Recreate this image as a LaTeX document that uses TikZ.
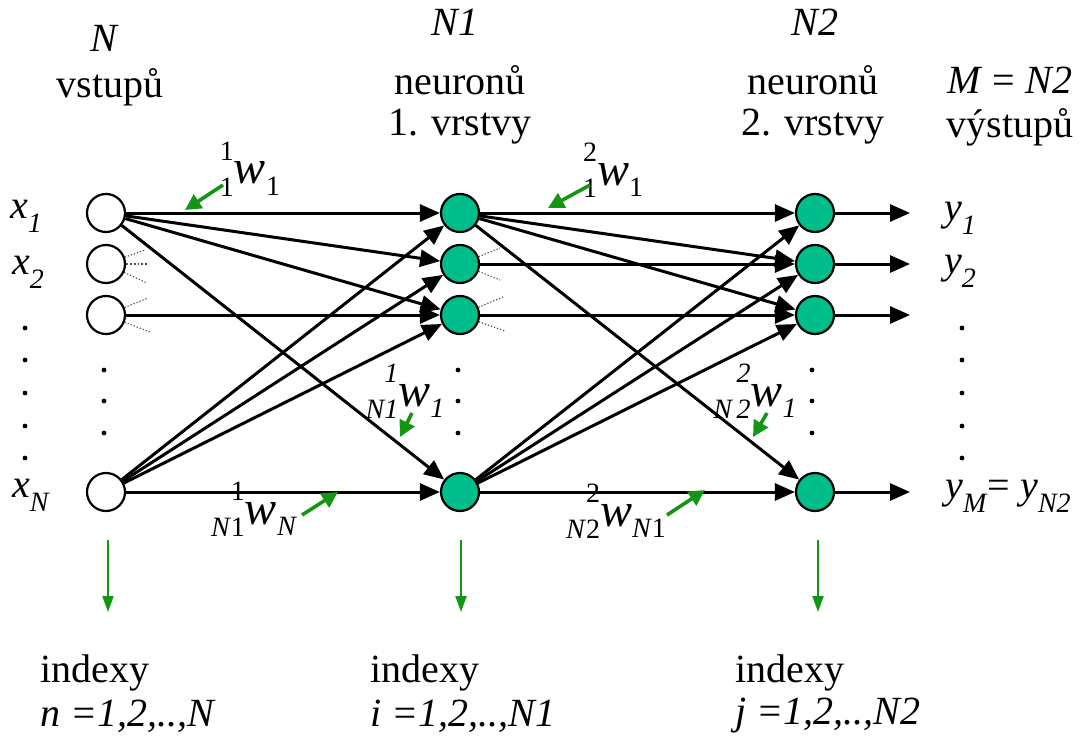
\documentclass[tikz,border=0pt]{standalone}
\usepackage{fontspec}
\setmainfont{Liberation Serif}
\usetikzlibrary{arrows.meta}
\definecolor{neuro}{RGB}{0,190,140}
\definecolor{garrow}{RGB}{20,150,20}
\newcommand{\lsub}[1]{\raisebox{-0.35em}{\fontsize{14}{14}\selectfont #1}}
\newcommand{\wlab}[3]{{\fontsize{14}{14}\selectfont\raisebox{-0.45em}{#2}\llap{\raisebox{0.85em}{#1}}}{\fontsize{24}{24}\selectfont\itshape w}{\fontsize{14}{14}\selectfont\raisebox{-0.4em}{#3}}}
\begin{document}
\begin{tikzpicture}[x=0.5pt,y=-0.5pt,
  inp/.style={circle,draw,line width=1.1pt,minimum size=19pt,inner sep=0pt,fill=white},
  neu/.style={inp,fill=neuro},
  conn/.style={line width=1.5pt,-{Triangle[length=10pt,width=8.5pt]}},
  hint/.style={garrow,line width=1.8pt,-{Triangle[length=8pt,width=8pt]}},
  down/.style={garrow,line width=1.1pt,-{Triangle[length=8pt,width=5.5pt]}},
  dotl/.style={densely dotted,line width=0.6pt,black!70},
  txt/.style={font=\fontsize{20}{23.5}\selectfont,inner sep=0pt,align=center},
  wtxt/.style={inner sep=0pt,anchor=base},
  dotn/.style={circle,fill=black,inner sep=0pt,minimum size=2.4pt},
]
\useasboundingbox (0,0) rectangle (1081,738);

% nodes
\node[inp] (i1) at (106,213) {};
\node[inp] (i2) at (106,264) {};
\node[inp] (i3) at (106,315) {};
\node[inp] (iN) at (106,492) {};
\node[neu] (h1) at (460,213) {};
\node[neu] (h2) at (460,264) {};
\node[neu] (h3) at (460,315) {};
\node[neu] (hN) at (460,492) {};
\node[neu] (o1) at (815,213) {};
\node[neu] (o2) at (815,264) {};
\node[neu] (o3) at (815,315) {};
\node[neu] (oN) at (815,492) {};

% connections layer 1
\foreach \t in {h1,h2,h3,hN}{
  \draw[conn] (i1) -- (\t);
  \draw[conn] (iN) -- (\t);
}
\draw[conn] (i3) -- (h3);
% connections layer 2
\foreach \t in {o1,o2,o3,oN}{
  \draw[conn] (h1) -- (\t);
  \draw[conn] (hN) -- (\t);
}
\draw[conn] (h2) -- (o2);
\draw[conn] (h3) -- (o3);

% outputs
\coordinate (e1) at (910,213);
\coordinate (e2) at (910,264);
\coordinate (e3) at (910,315);
\coordinate (eN) at (910,492);
\draw[conn] (o1) -- (e1);
\draw[conn] (o2) -- (e2);
\draw[conn] (o3) -- (e3);
\draw[conn] (oN) -- (eN);

% dotted stubs
\coordinate (d2a) at (145,250);
\coordinate (d2b) at (148,264);
\coordinate (d2c) at (147,283);
\coordinate (d3a) at (148,298);
\coordinate (d3c) at (150,332);
\coordinate (dh2a) at (500,248);
\coordinate (dh2c) at (500,280);
\coordinate (dh3a) at (503,297);
\coordinate (dh3c) at (505,331);
\draw[dotl] (i2) -- (d2a);
\draw[dotl,line width=0.9pt] (i2) -- (d2b);
\draw[dotl] (i2) -- (d2c);
\draw[dotl] (i3) -- (d3a);
\draw[dotl] (i3) -- (d3c);
\draw[dotl] (h2) -- (dh2a);
\draw[dotl] (h2) -- (dh2c);
\draw[dotl] (h3) -- (dh3a);
\draw[dotl] (h3) -- (dh3c);

% vertical dots in columns
\foreach \yy [count=\k] in {370,401,433}{
  \node[dotn] (ci\k) at (104,\yy) {};
  \node[dotn] (ch\k) at (458,\yy) {};
  \node[dotn] (co\k) at (812,\yy) {};
}
\foreach \yy [count=\k] in {328,360,393,426,458}{
  \node[dotn] (lx\k) at (25,\yy) {};
  \node[dotn] (ry\k) at (962,\yy) {};
}

% input / output labels
\node[txt] (lx1) at (26,216) {\textit{x}\lsub{\textit{1}}};
\node[txt] (lx2) at (28,272) {\textit{x}\lsub{\textit{2}}};
\node[txt] (lxN) at (31,495) {\textit{x}\lsub{\textit{N}}};
\node[txt] (ly1) at (960,218) {\textit{y}\lsub{\textit{1}}};
\node[txt] (ly2) at (960,271) {\textit{y}\lsub{\textit{2}}};
\node[txt] (lyM) at (1008,496) {\textit{y}\lsub{\textit{M}}= \textit{y}\lsub{\textit{N2}}};

% headers
\node[txt] (hN0) at (105,38) {\textit{N}};
\node[txt] (hv0) at (110,87) {vstupů};
\node[txt] (hN1) at (455,22) {\textit{N1}};
\node[txt] (hn1) at (460,80) {neuronů};
\node[txt] (hl1) at (460,127) {1. vrstvy};
\node[txt] (hN2) at (815,22) {\textit{N2}};
\node[txt] (hn2) at (813,80) {neuronů};
\node[txt] (hl2) at (813,127) {2. vrstvy};
\node[txt] (hM) at (1010,80) {\textit{M} = \textit{N2}};
\node[txt] (hy) at (1010,127) {výstupů};

% bottom index labels
\node[txt,anchor=west] (b1a) at (40,673) {indexy};
\node[txt,anchor=west] (b1b) at (40,716) {\textit{n =1,2,..,N}};
\node[txt,anchor=west] (b2a) at (370,673) {indexy};
\node[txt,anchor=west] (b2b) at (370,716) {\textit{i =1,2,..,N1}};
\node[txt,anchor=west] (b3a) at (735,673) {indexy};
\node[txt,anchor=west] (b3b) at (735,716) {\textit{j =1,2,..,N2}};

% down arrows
\coordinate (s1) at (108,540); \coordinate (t1) at (108,612);
\coordinate (s2) at (461,540); \coordinate (t2) at (461,612);
\coordinate (s3) at (818,540); \coordinate (t3) at (818,612);
\draw[down] (s1) -- (t1);
\draw[down] (s2) -- (t2);
\draw[down] (s3) -- (t3);

% weight labels
\node[wtxt] (w1) at (250,184) {\wlab{1}{1}{1}};
\node[wtxt] (w2) at (613,185) {\wlab{2}{1}{1}};
\node[wtxt] (w3) at (405,406) {\wlab{\textit{1}}{\textit{N1}}{\textit{1}}};
\node[wtxt] (w4) at (755,406) {\wlab{\textit{2}}{\textit{N\,2}}{\textit{1}}};
\node[wtxt] (w5) at (254,524) {\wlab{1}{\textit{N}1}{\textit{N}}};
\node[wtxt] (w6) at (616,526) {\wlab{2}{\textit{N}2}{\textit{N}1}};

% weight pointers
\coordinate (p1s) at (223,185); \coordinate (p1e) at (185,210);
\coordinate (p2s) at (590,185); \coordinate (p2e) at (548,208);
\coordinate (p3s) at (412,413); \coordinate (p3e) at (400,437);
\coordinate (p4s) at (767,413); \coordinate (p4e) at (753,437);
\coordinate (p5s) at (302,515); \coordinate (p5e) at (338,492);
\coordinate (p6s) at (667,515); \coordinate (p6e) at (705,490);
\foreach \k in {1,...,6}{\draw[hint] (p\k s) -- (p\k e);}
\end{tikzpicture}
\end{document}
